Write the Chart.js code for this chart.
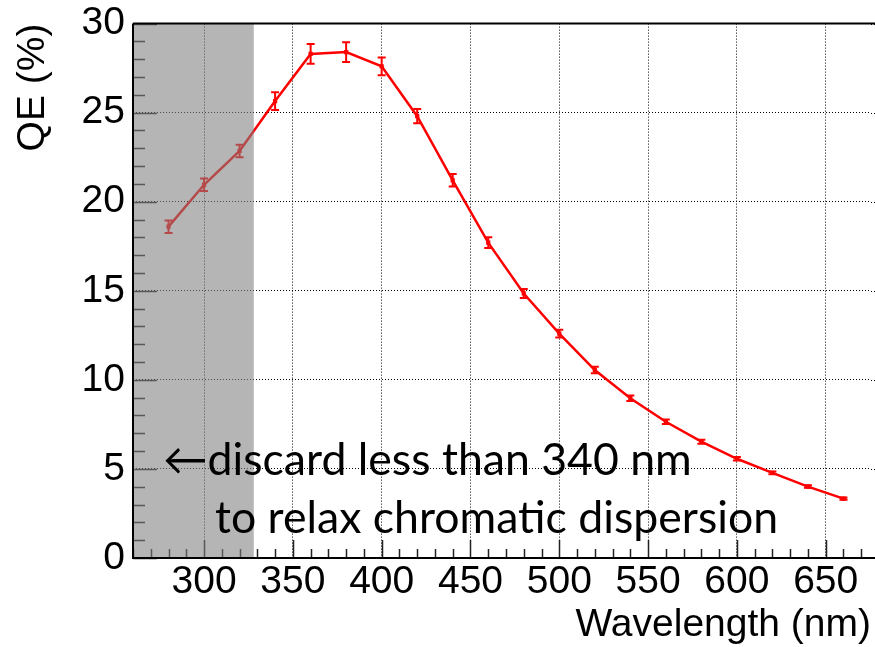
<!DOCTYPE html>
<html>
<head>
<meta charset="utf-8">
<script src="https://cdn.jsdelivr.net/npm/chart.js@4.4.1/dist/chart.umd.min.js"></script>
<style>
  html, body { margin: 0; padding: 0; background: #fff; }
</style>
</head>
<body>
<canvas id="chart" width="875" height="647"></canvas>
<script>
// QE curve, one point every 20 nm
const wavelengths = [280, 300, 320, 340, 360, 380, 400, 420, 440, 460, 480, 500, 520, 540, 560, 580, 600, 620, 640, 660];
const qe = [18.6, 20.95, 22.85, 25.65, 28.3, 28.4, 27.6, 24.8, 21.2, 17.7, 14.85, 12.6, 10.55, 8.97, 7.65, 6.53, 5.57, 4.78, 4.01, 3.33];
const qeErr = [0.35, 0.35, 0.35, 0.5, 0.55, 0.55, 0.5, 0.4, 0.35, 0.3, 0.25, 0.22, 0.18, 0.15, 0.13, 0.11, 0.1, 0.08, 0.07, 0.06];

const xTicks = [300, 350, 400, 450, 500, 550, 600, 650];
const yTicks = [0, 5, 10, 15, 20, 25, 30];
const xRange = [260, 675.5];
const yRange = [0, 30];
const cutWavelength = 328;
const noteLines = ['\u2190discard less than 340 nm', 'to relax chromatic dispersion'];

const axisFont = { family: '"Liberation Sans", Arial, sans-serif', size: 39 };

// ROOT-style frame: inward ticks, error bars, shaded cut region, note
const decorations = {
    id: 'decorations',
    afterDatasetsDraw(chart) {
        const { ctx, chartArea: a, scales: { x, y } } = chart;
        const edge = chart.width;
        ctx.save();

        // grid runs on to the canvas edge
        ctx.strokeStyle = '#000';
        ctx.lineWidth = 1;
        ctx.setLineDash([1, 2]);
        ctx.beginPath();
        yTicks.forEach(v => {
            const py = Math.round(y.getPixelForValue(v)) + 0.5;
            ctx.moveTo(a.right, py);
            ctx.lineTo(edge, py);
        });
        ctx.stroke();
        ctx.setLineDash([]);

        // inward ticks
        ctx.strokeStyle = '#222';
        ctx.lineWidth = 1.5;
        ctx.beginPath();
        for (let v = yRange[0]; v <= yRange[1]; v += 1) {
            const py = Math.round(y.getPixelForValue(v)) + 0.5;
            const len = v % 5 === 0 ? 24 : 12;
            ctx.moveTo(a.left, py);
            ctx.lineTo(a.left + len, py);
        }
        for (let v = 260; v <= xRange[1]; v += 10) {
            const px = Math.round(x.getPixelForValue(v)) + 0.5;
            const len = v % 50 === 0 ? 18 : 9;
            ctx.moveTo(px, a.bottom);
            ctx.lineTo(px, a.bottom - len);
        }
        ctx.stroke();

        // error bars
        ctx.strokeStyle = '#ff0000';
        ctx.lineWidth = 2;
        ctx.beginPath();
        wavelengths.forEach((w, i) => {
            const px = x.getPixelForValue(w);
            const top = y.getPixelForValue(qe[i] + qeErr[i]);
            const bot = y.getPixelForValue(qe[i] - qeErr[i]);
            ctx.moveTo(px, top); ctx.lineTo(px, bot);
            ctx.moveTo(px - 4, top); ctx.lineTo(px + 4, top);
            ctx.moveTo(px - 4, bot); ctx.lineTo(px + 4, bot);
        });
        ctx.stroke();

        // shaded region below the cut
        const cx = x.getPixelForValue(cutWavelength);
        ctx.fillStyle = 'rgba(128,128,128,0.58)';
        ctx.fillRect(a.left, a.top, cx - a.left, a.bottom - a.top);

        // frame
        ctx.strokeStyle = '#000';
        ctx.lineWidth = 2;
        ctx.beginPath();
        ctx.moveTo(a.left, a.top);
        ctx.lineTo(edge, a.top);
        ctx.moveTo(a.left, a.top);
        ctx.lineTo(a.left, a.bottom);
        ctx.lineTo(edge, a.bottom);
        ctx.stroke();

        // note
        ctx.fillStyle = '#000';
        ctx.font = '44.6px Lato, "Open Sans", sans-serif';
        ctx.textBaseline = 'alphabetic';
        ctx.textAlign = 'left';
        ctx.fillText(noteLines[0], 163, 475);
        ctx.fillText(noteLines[1], 215, 533);

        ctx.restore();
    }
};

new Chart(document.getElementById('chart'), {
    type: 'line',
    data: {
        datasets: [{
            data: wavelengths.map((w, i) => ({ x: w, y: qe[i] })),
            borderColor: '#ff0000',
            backgroundColor: '#ff0000',
            borderWidth: 2.5,
            pointStyle: 'rect',
            pointRadius: 3,
            pointBorderWidth: 0,
            tension: 0
        }]
    },
    options: {
        responsive: false,
        animation: false,
        devicePixelRatio: 1,
        layout: { padding: { top: 20.4, right: 0, left: 0, bottom: 0 } },
        plugins: { legend: { display: false }, tooltip: { enabled: false } },
        scales: {
            x: {
                type: 'linear',
                min: xRange[0],
                max: xRange[1],
                afterBuildTicks: s => { s.ticks = xTicks.map(v => ({ value: v })); },
                afterFit: s => { s.height = 89; },
                ticks: { font: { ...axisFont, lineHeight: 0.8 }, color: '#000', padding: 9, maxRotation: 0, autoSkip: false },
                grid: { color: '#000', lineWidth: 1, drawTicks: false },
                border: { display: false, dash: [1, 2] },
                title: {
                    display: true, text: 'Wavelength (nm)', align: 'end', color: '#000',
                    font: { ...axisFont, lineHeight: 1.1 }, padding: { top: 0, bottom: 0 }
                }
            },
            y: {
                min: yRange[0],
                max: yRange[1],
                afterBuildTicks: s => { s.ticks = yTicks.map(v => ({ value: v })); },
                afterFit: s => { s.width = 133; },
                ticks: { font: { ...axisFont, lineHeight: 0.8 }, color: '#000', padding: 8 },
                grid: { color: '#000', lineWidth: 1, drawTicks: false },
                border: { display: false, dash: [1, 2] },
                title: {
                    display: true, text: 'QE (%)', align: 'end', color: '#000',
                    font: { ...axisFont, lineHeight: 1.1 }, padding: { top: 12, bottom: 0 }
                }
            }
        }
    },
    plugins: [decorations]
});
</script>
</body>
</html>
